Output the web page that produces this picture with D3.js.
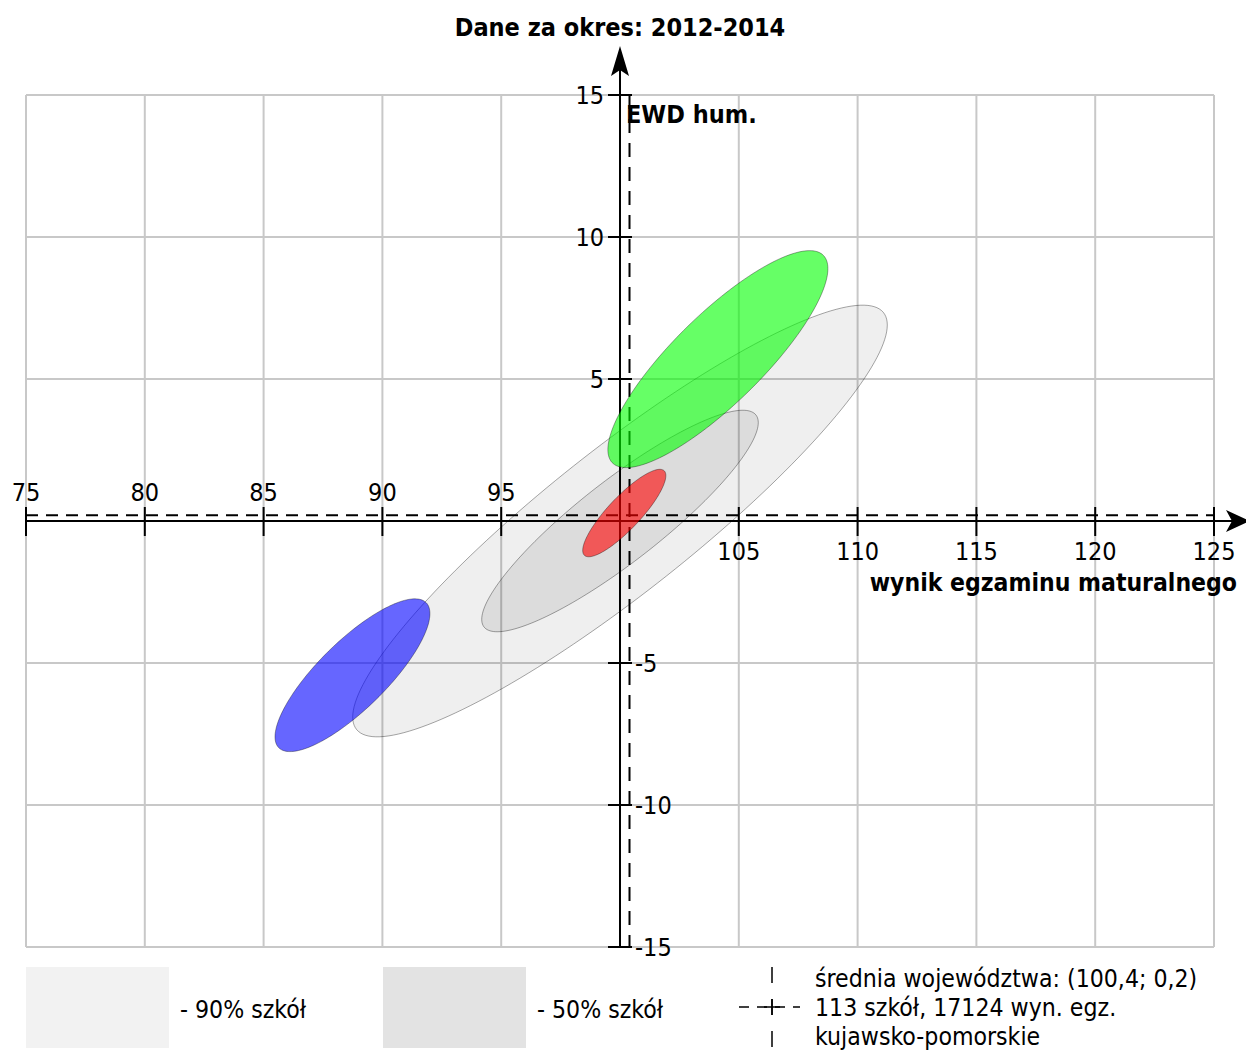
<!DOCTYPE html>
<html>
<head>
<meta charset="utf-8">
<script src="https://cdn.jsdelivr.net/npm/d3@7"></script>
<style>
    body { margin: 0; background: #fff; }
    svg text { font-family: 'DejaVu Sans Condensed', 'DejaVu Sans', sans-serif; font-stretch: condensed; }
</style>
</head>
<body>
<div id="chart"></div>
<script>
// Chart values
const title = 'Dane za okres: 2012-2014';
const xLabel = 'wynik egzaminu maturalnego';
const yLabel = 'EWD hum.';
const xTicksAbove = [75, 80, 85, 90, 95];
const xTicksBelow = [105, 110, 115, 120, 125];
const yTicksLeft = [15, 10, 5];
const yTicksRight = [-5, -10, -15];

// ellipses: centre, half-extent on each axis, correlation
const ellipseNames = ['90% szkół', '50% szkół', 'szkoła A', 'szkoła B', 'szkoła C'];
const ellipseCx = [100, 100, 88.74, 104.12, 100.18];
const ellipseCy = [0, 0, -5.43, 5.70, 0.28];
const ellipseSx = [11.25, 5.82, 3.26, 4.63, 1.75];
const ellipseSy = [7.60, 3.90, 2.69, 3.82, 1.54];
const ellipseR = [0.908, 0.888, 0.806, 0.834, 0.855];
const ellipseFill = ['rgba(0,0,0,0.062)', 'rgba(0,0,0,0.08)', 'rgba(0,0,255,0.6)', 'rgba(0,255,0,0.6)', 'rgba(255,0,0,0.6)'];

// voivodeship mean
const meanX = 100.4, meanY = 0.2;
const legendLabels = ['- 90% szkół', '- 50% szkół'];
const legendLines = ['średnia województwa: (100,4; 0,2)', '113 szkół, 17124 wyn. egz.', 'kujawsko-pomorskie'];

const width = 1246, height = 1050;
const plot = {left: 26, right: 1214, top: 95, bottom: 947};

const svg = d3.select('#chart').append('svg')
    .attr('width', width)
    .attr('height', height);

const x = d3.scaleLinear().domain([75, 125]).range([plot.left, plot.right]);
const y = d3.scaleLinear().domain([-15, 15]).range([plot.bottom, plot.top]);

// Grid
const grid = svg.append('g').attr('stroke', '#c8c8c8').attr('stroke-width', 2);
grid.selectAll('.gx').data(x.ticks(10)).join('line')
    .attr('x1', d => x(d)).attr('x2', d => x(d))
    .attr('y1', plot.top).attr('y2', plot.bottom);
grid.selectAll('.gy').data(y.ticks(6)).join('line')
    .attr('y1', d => y(d)).attr('y2', d => y(d))
    .attr('x1', plot.left).attr('x2', plot.right);

// Axes through (100, 0)
const ax = svg.append('g').attr('stroke', '#000').attr('stroke-width', 2);
ax.append('line').attr('x1', x(75)).attr('x2', 1232).attr('y1', y(0)).attr('y2', y(0));
ax.append('line').attr('x1', x(100)).attr('x2', x(100)).attr('y1', y(-15)).attr('y2', 70);

svg.append('path')
    .attr('d', `M${x(100)},46 L${x(100) + 9},76 L${x(100)},70 L${x(100) - 9},76 Z`)
    .attr('fill', '#000');
svg.append('path')
    .attr('d', `M1250,${y(0)} L1226,${y(0) - 11} L1232,${y(0)} L1226,${y(0) + 11} Z`)
    .attr('fill', '#000');

// ticks
ax.selectAll('.tx').data(xTicksAbove.concat(xTicksBelow)).join('line')
    .attr('x1', d => x(d)).attr('x2', d => x(d))
    .attr('y1', y(0) - 14).attr('y2', y(0) + 15);
ax.selectAll('.ty').data(yTicksLeft.concat(yTicksRight)).join('line')
    .attr('y1', d => y(d)).attr('y2', d => y(d))
    .attr('x1', x(100) - 12).attr('x2', x(100) + 12);

// dashed mean lines
const dash = svg.append('g').attr('stroke', '#000').attr('stroke-width', 2);
dash.append('line')
    .attr('x1', plot.left).attr('x2', plot.right)
    .attr('y1', y(meanY)).attr('y2', y(meanY))
    .attr('stroke-dasharray', '12,8');
dash.append('line')
    .attr('x1', x(meanX)).attr('x2', x(meanX))
    .attr('y1', plot.top).attr('y2', plot.bottom)
    .attr('stroke-dasharray', '14,10');

// Ellipses
const ellipseLine = d3.line().curve(d3.curveLinearClosed);
const steps = d3.range(0, 2 * Math.PI, Math.PI / 90);
svg.append('g').selectAll('path')
    .data(ellipseNames.map((n, i) => i))
    .join('path')
    .attr('class', 'ellipse')
    .attr('d', i => ellipseLine(steps.map(t => [
        x(ellipseCx[i] + ellipseSx[i] * Math.cos(t)),
        y(ellipseCy[i] + ellipseSy[i] * (ellipseR[i] * Math.cos(t) + Math.sqrt(1 - ellipseR[i] * ellipseR[i]) * Math.sin(t)))
    ])))
    .attr('fill', i => ellipseFill[i])
    .attr('stroke', 'rgba(0,0,0,0.35)')
    .attr('stroke-width', 1);

// Tick labels
svg.selectAll('.lx1').data(xTicksAbove).join('text')
    .attr('x', d => x(d)).attr('y', 501)
    .attr('text-anchor', 'middle').attr('font-size', 25)
    .text(d => d);
svg.selectAll('.lx2').data(xTicksBelow).join('text')
    .attr('x', d => x(d)).attr('y', 560)
    .attr('text-anchor', 'middle').attr('font-size', 25)
    .text(d => d);
svg.selectAll('.ly1').data(yTicksLeft).join('text')
    .attr('x', x(100) - 16).attr('y', d => y(d) + 9)
    .attr('text-anchor', 'end').attr('font-size', 25)
    .text(d => d);
svg.selectAll('.ly2').data(yTicksRight).join('text')
    .attr('x', x(100) + 15).attr('y', d => y(d) + 9)
    .attr('text-anchor', 'start').attr('font-size', 25)
    .text(d => d);

// Titles
svg.append('text').attr('x', 620).attr('y', 36)
    .attr('text-anchor', 'middle').attr('font-size', 25).attr('font-weight', 'bold')
    .text(title);
svg.append('text').attr('x', 1237).attr('y', 591)
    .attr('text-anchor', 'end').attr('font-size', 24.5).attr('font-weight', 'bold')
    .text(xLabel);
svg.append('text').attr('x', 626).attr('y', 123)
    .attr('font-size', 25).attr('font-weight', 'bold')
    .text(yLabel);

// Legend
const legend = svg.append('g');
legend.append('rect').attr('x', 26).attr('y', 967).attr('width', 143).attr('height', 81).attr('fill', '#f2f2f2');
legend.append('rect').attr('x', 383).attr('y', 967).attr('width', 143).attr('height', 81).attr('fill', '#e3e3e3');
legend.selectAll('.ll').data(legendLabels).join('text')
    .attr('x', (d, i) => i === 0 ? 180 : 537).attr('y', 1018)
    .attr('font-size', 24.6)
    .text(d => d);

const mark = legend.append('g').attr('stroke', '#000').attr('stroke-width', 1.5);
mark.append('line').attr('x1', 739).attr('x2', 800).attr('y1', 1007).attr('y2', 1007).attr('stroke-dasharray', '10,8');
mark.append('line').attr('x1', 772).attr('x2', 772).attr('y1', 967).attr('y2', 1048).attr('stroke-dasharray', '16,16');
mark.append('line').attr('x1', 764).attr('x2', 780).attr('y1', 1007).attr('y2', 1007);
mark.append('line').attr('x1', 772).attr('x2', 772).attr('y1', 999).attr('y2', 1015);

legend.selectAll('.lt').data(legendLines).join('text')
    .attr('x', 815).attr('y', (d, i) => 987 + i * 29)
    .attr('font-size', 24.6)
    .text(d => d);
</script>
</body>
</html>
